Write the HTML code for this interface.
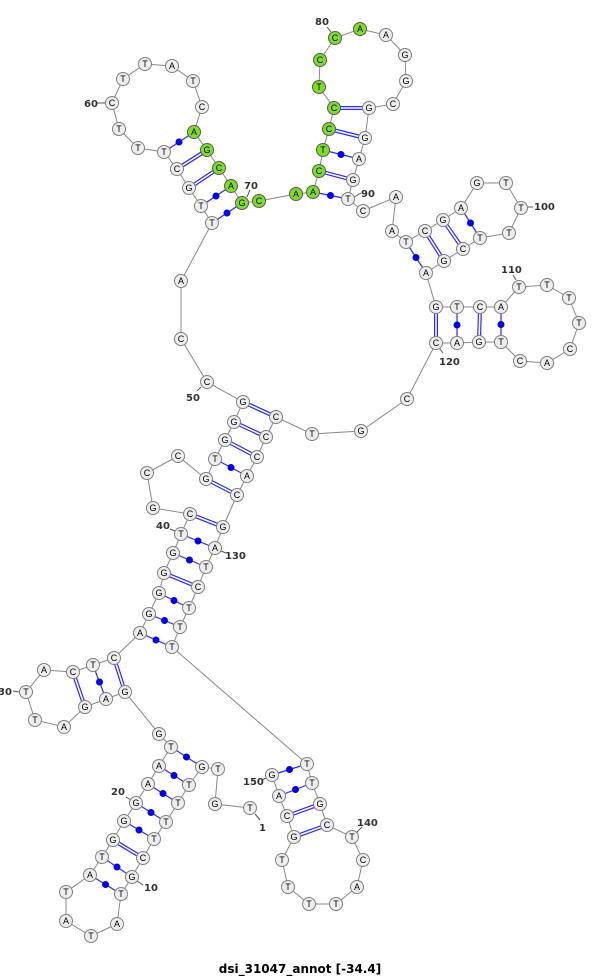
<!DOCTYPE html>
<html><head><meta charset="utf-8"><style>
html,body{margin:0;padding:0;background:#fff;}
svg{display:block;}
.n circle{fill:#eeeeee;stroke:#808080;stroke-width:1;}
.g circle{fill:#7fdd22;stroke:#5a5a5a;stroke-width:1;}
text.b{font-family:"Liberation Sans","DejaVu Sans",sans-serif;font-size:9px;text-anchor:middle;dominant-baseline:central;fill:#000;}
text.l{font-family:"DejaVu Sans","Liberation Sans",sans-serif;font-size:10px;font-weight:bold;fill:#333;}
.dbl{stroke:#2a2aff;stroke-width:4;}
.dblw{stroke:#fff;stroke-width:1.6;}
.sgl{stroke:#2a2aff;stroke-width:1.2;}
.dot{fill:#0000ee;}
</style></head><body>
<svg width="600" height="978" viewBox="0 0 600 978" xmlns="http://www.w3.org/2000/svg">
<polyline fill="none" stroke="#888" stroke-width="1" points="250,808 215,804 218,769 202,767 189,785 178,803 166,822 154,839 143,858 132,877 121,894 117,924 91,936 66,921 66,892 90,875 102,857 113,840 124,821 136,803 148,784 159,766 171,747 159,734 125,692 106,699 85,707 64,727 35,720 26,692 44,670 73,672 93,665 114,658 140,633 149,614 159,593 164,573 173,553 181,534 190,514 153,508 147,473 178,456 206,479 215,459 225,440 234,422 243,402 207,382 181,339 181,281 212,223 201,206 189,188 177,169 164,152 138,148 119,129 112,103 123,79 145,64 172,66 193,81 202,107 194,132 207,150 219,168 231,186 242,203 259,201 296,194 313,192 319,171 323,150 329,129 334,108 319,87 320,60 335,38 360,29 386,35 405,55 406,81 393,104 369,108 365,138 359,159 353,180 348,199 363,211 396,197 392,231 406,242 425,231 443,220 461,208 477,183 506,183 521,208 509,233 480,238 463,249 444,261 426,273 436,307 457,307 480,307 501,307 519,287 547,285 569,298 579,323 570,349 547,363 520,361 501,342 479,342 457,343 436,343 407,399 361,431 312,434 276,417 266,437 257,457 247,476 237,495 223,527 215,548 206,567 198,587 189,608 180,627 172,647 307,764 312,783 320,804 327,825 352,837 363,860 357,887 336,904 309,904 288,887 282,860 294,837 287,816 279,796 272,775"/>
<!-- double pairs -->
<g class="dbl">
<line x1="113" y1="840" x2="143" y2="858"/>
<line x1="73" y1="672" x2="85" y2="707"/>
<line x1="114" y1="658" x2="125" y2="692"/>
<line x1="164" y1="573" x2="198" y2="587"/>
<line x1="190" y1="514" x2="223" y2="527"/>
<line x1="206" y1="479" x2="237" y2="495"/>
<line x1="225" y1="440" x2="257" y2="457"/>
<line x1="234" y1="422" x2="266" y2="437"/>
<line x1="243" y1="402" x2="276" y2="417"/>
<line x1="189" y1="188" x2="219" y2="168"/>
<line x1="177" y1="169" x2="207" y2="150"/>
<line x1="319" y1="171" x2="353" y2="180"/>
<line x1="329" y1="129" x2="365" y2="138"/>
<line x1="334" y1="108" x2="369" y2="108"/>
<line x1="425" y1="231" x2="444" y2="261"/>
<line x1="443" y1="220" x2="463" y2="249"/>
<line x1="436" y1="307" x2="436" y2="343"/>
<line x1="480" y1="307" x2="479" y2="342"/>
<line x1="320" y1="804" x2="287" y2="816"/>
<line x1="327" y1="825" x2="294" y2="837"/>
</g>
<g class="dblw">
<line x1="113" y1="840" x2="143" y2="858"/>
<line x1="73" y1="672" x2="85" y2="707"/>
<line x1="114" y1="658" x2="125" y2="692"/>
<line x1="164" y1="573" x2="198" y2="587"/>
<line x1="190" y1="514" x2="223" y2="527"/>
<line x1="206" y1="479" x2="237" y2="495"/>
<line x1="225" y1="440" x2="257" y2="457"/>
<line x1="234" y1="422" x2="266" y2="437"/>
<line x1="243" y1="402" x2="276" y2="417"/>
<line x1="189" y1="188" x2="219" y2="168"/>
<line x1="177" y1="169" x2="207" y2="150"/>
<line x1="319" y1="171" x2="353" y2="180"/>
<line x1="329" y1="129" x2="365" y2="138"/>
<line x1="334" y1="108" x2="369" y2="108"/>
<line x1="425" y1="231" x2="444" y2="261"/>
<line x1="443" y1="220" x2="463" y2="249"/>
<line x1="436" y1="307" x2="436" y2="343"/>
<line x1="480" y1="307" x2="479" y2="342"/>
<line x1="320" y1="804" x2="287" y2="816"/>
<line x1="327" y1="825" x2="294" y2="837"/>
</g>
<!-- single pairs -->
<g class="sgl">
<line x1="171" y1="747" x2="202" y2="767"/>
<line x1="159" y1="766" x2="189" y2="785"/>
<line x1="148" y1="784" x2="178" y2="803"/>
<line x1="136" y1="803" x2="166" y2="822"/>
<line x1="124" y1="821" x2="154" y2="839"/>
<line x1="102" y1="857" x2="132" y2="877"/>
<line x1="90" y1="875" x2="121" y2="894"/>
<line x1="93" y1="665" x2="106" y2="699"/>
<line x1="140" y1="633" x2="172" y2="647"/>
<line x1="149" y1="614" x2="180" y2="627"/>
<line x1="159" y1="593" x2="189" y2="608"/>
<line x1="173" y1="553" x2="206" y2="567"/>
<line x1="181" y1="534" x2="215" y2="548"/>
<line x1="215" y1="459" x2="247" y2="476"/>
<line x1="212" y1="223" x2="242" y2="203"/>
<line x1="201" y1="206" x2="231" y2="186"/>
<line x1="164" y1="152" x2="194" y2="132"/>
<line x1="313" y1="192" x2="348" y2="199"/>
<line x1="323" y1="150" x2="359" y2="159"/>
<line x1="406" y1="242" x2="426" y2="273"/>
<line x1="461" y1="208" x2="480" y2="238"/>
<line x1="457" y1="307" x2="457" y2="343"/>
<line x1="501" y1="307" x2="501" y2="342"/>
<line x1="307" y1="764" x2="272" y2="775"/>
<line x1="312" y1="783" x2="279" y2="796"/>
</g>
<g class="dot">
<circle cx="186.5" cy="757" r="3.5"/><circle cx="174" cy="775.5" r="3.5"/><circle cx="163" cy="793.5" r="3.5"/><circle cx="151" cy="812.5" r="3.5"/><circle cx="139" cy="830" r="3.5"/><circle cx="117" cy="867" r="3.5"/><circle cx="105.5" cy="884.5" r="3.5"/><circle cx="99.5" cy="682" r="3.5"/><circle cx="156" cy="640" r="3.5"/><circle cx="164.5" cy="620.5" r="3.5"/><circle cx="174" cy="600.5" r="3.5"/><circle cx="189.5" cy="560" r="3.5"/><circle cx="198" cy="541" r="3.5"/><circle cx="231" cy="467.5" r="3.5"/><circle cx="227" cy="213" r="3.5"/><circle cx="216" cy="196" r="3.5"/><circle cx="179" cy="142" r="3.5"/><circle cx="330.5" cy="195.5" r="3.5"/><circle cx="341" cy="154.5" r="3.5"/><circle cx="416" cy="257.5" r="3.5"/><circle cx="470.5" cy="223" r="3.5"/><circle cx="457" cy="325" r="3.5"/><circle cx="501" cy="324.5" r="3.5"/><circle cx="289.5" cy="769.5" r="3.5"/><circle cx="295.5" cy="789.5" r="3.5"/>
</g>
<!-- label ticks -->
<g stroke="#555" stroke-width="1">
<line x1="255" y1="814" x2="260" y2="820"/>
<line x1="137" y1="881" x2="143" y2="885"/>
<line x1="126" y1="797" x2="131" y2="800"/>
<line x1="13" y1="691" x2="19" y2="692"/>
<line x1="170" y1="529" x2="175" y2="531"/>
<line x1="201" y1="387" x2="197" y2="391"/>
<line x1="97" y1="103" x2="105" y2="103"/>
<line x1="247" y1="197" x2="250" y2="190"/>
<line x1="331" y1="32" x2="327" y2="27"/>
<line x1="354" y1="197" x2="361" y2="193"/>
<line x1="528" y1="207" x2="533" y2="207"/>
<line x1="516" y1="280" x2="513" y2="275"/>
<line x1="440" y1="349" x2="443" y2="353"/>
<line x1="221" y1="551" x2="226" y2="553"/>
<line x1="357" y1="832" x2="362" y2="827"/>
<line x1="266" y1="778" x2="262" y2="780"/>
</g>
<g>
<text class="l" x="259" y="831">1</text>
<text class="l" x="144" y="891">10</text>
<text class="l" x="111" y="795">20</text>
<text class="l" x="-2" y="695">30</text>
<text class="l" x="156" y="529">40</text>
<text class="l" x="186" y="401">50</text>
<text class="l" x="84" y="107">60</text>
<text class="l" x="244" y="189">70</text>
<text class="l" x="315" y="25">80</text>
<text class="l" x="361" y="197">90</text>
<text class="l" x="534" y="210">100</text>
<text class="l" x="501" y="273">110</text>
<text class="l" x="439" y="365">120</text>
<text class="l" x="225" y="559">130</text>
<text class="l" x="357" y="826">140</text>
<text class="l" x="243" y="785">150</text>
</g>
<!-- nodes -->
<g class="n">
<circle cx="250" cy="808" r="6.5"/><circle cx="215" cy="804" r="6.5"/><circle cx="218" cy="769" r="6.5"/><circle cx="202" cy="767" r="6.5"/><circle cx="189" cy="785" r="6.5"/><circle cx="178" cy="803" r="6.5"/><circle cx="166" cy="822" r="6.5"/><circle cx="154" cy="839" r="6.5"/><circle cx="143" cy="858" r="6.5"/><circle cx="132" cy="877" r="6.5"/><circle cx="121" cy="894" r="6.5"/><circle cx="117" cy="924" r="6.5"/><circle cx="91" cy="936" r="6.5"/><circle cx="66" cy="921" r="6.5"/><circle cx="66" cy="892" r="6.5"/><circle cx="90" cy="875" r="6.5"/><circle cx="102" cy="857" r="6.5"/><circle cx="113" cy="840" r="6.5"/><circle cx="124" cy="821" r="6.5"/><circle cx="136" cy="803" r="6.5"/><circle cx="148" cy="784" r="6.5"/><circle cx="159" cy="766" r="6.5"/><circle cx="171" cy="747" r="6.5"/><circle cx="159" cy="734" r="6.5"/><circle cx="125" cy="692" r="6.5"/><circle cx="106" cy="699" r="6.5"/><circle cx="85" cy="707" r="6.5"/><circle cx="64" cy="727" r="6.5"/><circle cx="35" cy="720" r="6.5"/><circle cx="26" cy="692" r="6.5"/><circle cx="44" cy="670" r="6.5"/><circle cx="73" cy="672" r="6.5"/><circle cx="93" cy="665" r="6.5"/><circle cx="114" cy="658" r="6.5"/><circle cx="140" cy="633" r="6.5"/><circle cx="149" cy="614" r="6.5"/><circle cx="159" cy="593" r="6.5"/><circle cx="164" cy="573" r="6.5"/><circle cx="173" cy="553" r="6.5"/><circle cx="181" cy="534" r="6.5"/><circle cx="190" cy="514" r="6.5"/><circle cx="153" cy="508" r="6.5"/><circle cx="147" cy="473" r="6.5"/><circle cx="178" cy="456" r="6.5"/><circle cx="206" cy="479" r="6.5"/><circle cx="215" cy="459" r="6.5"/><circle cx="225" cy="440" r="6.5"/><circle cx="234" cy="422" r="6.5"/><circle cx="243" cy="402" r="6.5"/><circle cx="207" cy="382" r="6.5"/><circle cx="181" cy="339" r="6.5"/><circle cx="181" cy="281" r="6.5"/><circle cx="212" cy="223" r="6.5"/><circle cx="201" cy="206" r="6.5"/><circle cx="189" cy="188" r="6.5"/><circle cx="177" cy="169" r="6.5"/><circle cx="164" cy="152" r="6.5"/><circle cx="138" cy="148" r="6.5"/><circle cx="119" cy="129" r="6.5"/><circle cx="112" cy="103" r="6.5"/><circle cx="123" cy="79" r="6.5"/><circle cx="145" cy="64" r="6.5"/><circle cx="172" cy="66" r="6.5"/><circle cx="193" cy="81" r="6.5"/><circle cx="202" cy="107" r="6.5"/>
<circle cx="386" cy="35" r="6.5"/><circle cx="405" cy="55" r="6.5"/><circle cx="406" cy="81" r="6.5"/><circle cx="393" cy="104" r="6.5"/><circle cx="369" cy="108" r="6.5"/><circle cx="365" cy="138" r="6.5"/><circle cx="359" cy="159" r="6.5"/><circle cx="353" cy="180" r="6.5"/><circle cx="348" cy="199" r="6.5"/><circle cx="363" cy="211" r="6.5"/><circle cx="396" cy="197" r="6.5"/><circle cx="392" cy="231" r="6.5"/><circle cx="406" cy="242" r="6.5"/><circle cx="425" cy="231" r="6.5"/><circle cx="443" cy="220" r="6.5"/><circle cx="461" cy="208" r="6.5"/><circle cx="477" cy="183" r="6.5"/><circle cx="506" cy="183" r="6.5"/><circle cx="521" cy="208" r="6.5"/><circle cx="509" cy="233" r="6.5"/><circle cx="480" cy="238" r="6.5"/><circle cx="463" cy="249" r="6.5"/><circle cx="444" cy="261" r="6.5"/><circle cx="426" cy="273" r="6.5"/><circle cx="436" cy="307" r="6.5"/><circle cx="457" cy="307" r="6.5"/><circle cx="480" cy="307" r="6.5"/><circle cx="501" cy="307" r="6.5"/><circle cx="519" cy="287" r="6.5"/><circle cx="547" cy="285" r="6.5"/><circle cx="569" cy="298" r="6.5"/><circle cx="579" cy="323" r="6.5"/><circle cx="570" cy="349" r="6.5"/><circle cx="547" cy="363" r="6.5"/><circle cx="520" cy="361" r="6.5"/><circle cx="501" cy="342" r="6.5"/><circle cx="479" cy="342" r="6.5"/><circle cx="457" cy="343" r="6.5"/><circle cx="436" cy="343" r="6.5"/><circle cx="407" cy="399" r="6.5"/><circle cx="361" cy="431" r="6.5"/><circle cx="312" cy="434" r="6.5"/><circle cx="276" cy="417" r="6.5"/><circle cx="266" cy="437" r="6.5"/><circle cx="257" cy="457" r="6.5"/><circle cx="247" cy="476" r="6.5"/><circle cx="237" cy="495" r="6.5"/><circle cx="223" cy="527" r="6.5"/><circle cx="215" cy="548" r="6.5"/><circle cx="206" cy="567" r="6.5"/><circle cx="198" cy="587" r="6.5"/><circle cx="189" cy="608" r="6.5"/><circle cx="180" cy="627" r="6.5"/><circle cx="172" cy="647" r="6.5"/><circle cx="307" cy="764" r="6.5"/><circle cx="312" cy="783" r="6.5"/><circle cx="320" cy="804" r="6.5"/><circle cx="327" cy="825" r="6.5"/><circle cx="352" cy="837" r="6.5"/><circle cx="363" cy="860" r="6.5"/><circle cx="357" cy="887" r="6.5"/><circle cx="336" cy="904" r="6.5"/><circle cx="309" cy="904" r="6.5"/><circle cx="288" cy="887" r="6.5"/><circle cx="282" cy="860" r="6.5"/><circle cx="294" cy="837" r="6.5"/><circle cx="287" cy="816" r="6.5"/><circle cx="279" cy="796" r="6.5"/><circle cx="272" cy="775" r="6.5"/>
</g>
<g class="g">
<circle cx="194" cy="132" r="6.5"/><circle cx="207" cy="150" r="6.5"/><circle cx="219" cy="168" r="6.5"/><circle cx="231" cy="186" r="6.5"/><circle cx="242" cy="203" r="6.5"/><circle cx="259" cy="201" r="6.5"/><circle cx="296" cy="194" r="6.5"/><circle cx="313" cy="192" r="6.5"/><circle cx="319" cy="171" r="6.5"/><circle cx="323" cy="150" r="6.5"/><circle cx="329" cy="129" r="6.5"/><circle cx="334" cy="108" r="6.5"/><circle cx="319" cy="87" r="6.5"/><circle cx="320" cy="60" r="6.5"/><circle cx="335" cy="38" r="6.5"/><circle cx="360" cy="29" r="6.5"/>
</g>
<g>
<text class="b" x="250" y="808">T</text><text class="b" x="215" y="804">G</text><text class="b" x="218" y="769">T</text><text class="b" x="202" y="767">G</text><text class="b" x="189" y="785">T</text><text class="b" x="178" y="803">T</text><text class="b" x="166" y="822">T</text><text class="b" x="154" y="839">T</text><text class="b" x="143" y="858">C</text><text class="b" x="132" y="877">G</text><text class="b" x="121" y="894">T</text><text class="b" x="117" y="924">A</text><text class="b" x="91" y="936">T</text><text class="b" x="66" y="921">A</text><text class="b" x="66" y="892">T</text><text class="b" x="90" y="875">A</text><text class="b" x="102" y="857">T</text><text class="b" x="113" y="840">G</text><text class="b" x="124" y="821">G</text><text class="b" x="136" y="803">G</text><text class="b" x="148" y="784">A</text><text class="b" x="159" y="766">A</text><text class="b" x="171" y="747">T</text><text class="b" x="159" y="734">G</text><text class="b" x="125" y="692">G</text><text class="b" x="106" y="699">A</text><text class="b" x="85" y="707">G</text><text class="b" x="64" y="727">A</text><text class="b" x="35" y="720">T</text><text class="b" x="26" y="692">T</text><text class="b" x="44" y="670">A</text><text class="b" x="73" y="672">C</text><text class="b" x="93" y="665">T</text><text class="b" x="114" y="658">C</text><text class="b" x="140" y="633">A</text><text class="b" x="149" y="614">G</text><text class="b" x="159" y="593">G</text><text class="b" x="164" y="573">G</text><text class="b" x="173" y="553">G</text><text class="b" x="181" y="534">T</text><text class="b" x="190" y="514">C</text><text class="b" x="153" y="508">G</text><text class="b" x="147" y="473">C</text><text class="b" x="178" y="456">C</text><text class="b" x="206" y="479">G</text><text class="b" x="215" y="459">T</text><text class="b" x="225" y="440">G</text><text class="b" x="234" y="422">G</text><text class="b" x="243" y="402">G</text><text class="b" x="207" y="382">C</text><text class="b" x="181" y="339">C</text><text class="b" x="181" y="281">A</text><text class="b" x="212" y="223">T</text><text class="b" x="201" y="206">T</text><text class="b" x="189" y="188">G</text><text class="b" x="177" y="169">C</text><text class="b" x="164" y="152">T</text><text class="b" x="138" y="148">T</text><text class="b" x="119" y="129">T</text><text class="b" x="112" y="103">C</text><text class="b" x="123" y="79">T</text><text class="b" x="145" y="64">T</text><text class="b" x="172" y="66">A</text><text class="b" x="193" y="81">T</text><text class="b" x="202" y="107">C</text><text class="b" x="194" y="132">A</text><text class="b" x="207" y="150">G</text><text class="b" x="219" y="168">C</text><text class="b" x="231" y="186">A</text><text class="b" x="242" y="203">G</text><text class="b" x="259" y="201">C</text><text class="b" x="296" y="194">A</text><text class="b" x="313" y="192">A</text><text class="b" x="319" y="171">C</text><text class="b" x="323" y="150">T</text><text class="b" x="329" y="129">C</text><text class="b" x="334" y="108">C</text><text class="b" x="319" y="87">T</text><text class="b" x="320" y="60">C</text><text class="b" x="335" y="38">C</text><text class="b" x="360" y="29">A</text><text class="b" x="386" y="35">A</text><text class="b" x="405" y="55">G</text><text class="b" x="406" y="81">G</text><text class="b" x="393" y="104">C</text><text class="b" x="369" y="108">G</text><text class="b" x="365" y="138">G</text><text class="b" x="359" y="159">A</text><text class="b" x="353" y="180">G</text><text class="b" x="348" y="199">T</text><text class="b" x="363" y="211">C</text><text class="b" x="396" y="197">A</text><text class="b" x="392" y="231">A</text><text class="b" x="406" y="242">T</text><text class="b" x="425" y="231">C</text><text class="b" x="443" y="220">G</text><text class="b" x="461" y="208">A</text><text class="b" x="477" y="183">G</text><text class="b" x="506" y="183">T</text><text class="b" x="521" y="208">T</text><text class="b" x="509" y="233">T</text><text class="b" x="480" y="238">T</text><text class="b" x="463" y="249">C</text><text class="b" x="444" y="261">G</text><text class="b" x="426" y="273">A</text><text class="b" x="436" y="307">G</text><text class="b" x="457" y="307">T</text><text class="b" x="480" y="307">C</text><text class="b" x="501" y="307">A</text><text class="b" x="519" y="287">T</text><text class="b" x="547" y="285">T</text><text class="b" x="569" y="298">T</text><text class="b" x="579" y="323">T</text><text class="b" x="570" y="349">C</text><text class="b" x="547" y="363">A</text><text class="b" x="520" y="361">C</text><text class="b" x="501" y="342">T</text><text class="b" x="479" y="342">G</text><text class="b" x="457" y="343">A</text><text class="b" x="436" y="343">C</text><text class="b" x="407" y="399">C</text><text class="b" x="361" y="431">G</text><text class="b" x="312" y="434">T</text><text class="b" x="276" y="417">C</text><text class="b" x="266" y="437">C</text><text class="b" x="257" y="457">C</text><text class="b" x="247" y="476">A</text><text class="b" x="237" y="495">C</text><text class="b" x="223" y="527">G</text><text class="b" x="215" y="548">A</text><text class="b" x="206" y="567">T</text><text class="b" x="198" y="587">C</text><text class="b" x="189" y="608">T</text><text class="b" x="180" y="627">T</text><text class="b" x="172" y="647">T</text><text class="b" x="307" y="764">T</text><text class="b" x="312" y="783">T</text><text class="b" x="320" y="804">G</text><text class="b" x="327" y="825">C</text><text class="b" x="352" y="837">T</text><text class="b" x="363" y="860">C</text><text class="b" x="357" y="887">A</text><text class="b" x="336" y="904">T</text><text class="b" x="309" y="904">T</text><text class="b" x="288" y="887">T</text><text class="b" x="282" y="860">T</text><text class="b" x="294" y="837">G</text><text class="b" x="287" y="816">C</text><text class="b" x="279" y="796">A</text><text class="b" x="272" y="775">G</text>
</g>
<text x="300" y="973" text-anchor="middle" style="font-family:'DejaVu Sans','Liberation Sans',sans-serif;font-size:12px;font-weight:bold;fill:#000;">dsi_31047_annot [-34.4]</text>
</svg>
</body></html>
